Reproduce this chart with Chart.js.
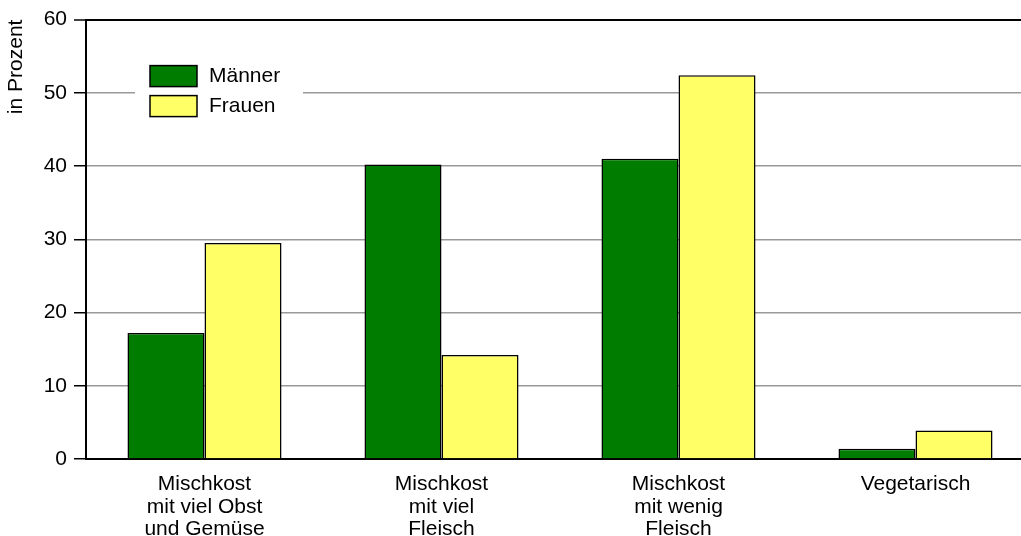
<!DOCTYPE html>
<html>
<head>
<meta charset="utf-8">
<script src="https://cdn.jsdelivr.net/npm/chart.js@4/dist/chart.umd.min.js"></script>
<style>
  html, body { margin: 0; padding: 0; overflow: hidden; background: #fff; }
  #wrap { width: 1040px; height: 536px; }
</style>
</head>
<body>
<div id="wrap"><canvas id="chart"></canvas></div>
<script>
// === Data ===
const categories = [
  ['Mischkost', 'mit viel Obst', 'und Gemüse'],
  ['Mischkost', 'mit viel', 'Fleisch'],
  ['Mischkost', 'mit wenig', 'Fleisch'],
  'Vegetarisch'
];
const maenner = [17.2, 40.2, 41.0, 1.4];
const frauen = [29.5, 14.2, 52.4, 3.9];
const yTicks = [0, 10, 20, 30, 40, 50, 60];

const FONT = '"Liberation Sans", Arial, sans-serif';

// === Legend drawn inside the plot, over the grid ===
const boxLegend = {
  id: 'boxLegend',
  afterDatasetsDraw(chart) {
    const { ctx, chartArea } = chart;
    const x0 = chartArea.left + 64, y0 = chartArea.top + 46;
    ctx.save();
    ctx.fillStyle = '#fff';
    ctx.fillRect(x0 - 15, y0 - 12, 168, 72);
    chart.data.datasets.forEach((ds, i) => {
      const y = y0 + i * 30;
      ctx.fillStyle = ds.backgroundColor;
      ctx.fillRect(x0, y, 47, 21);
      ctx.lineWidth = 1.5;
      ctx.strokeStyle = '#000';
      ctx.strokeRect(x0, y, 47, 21);
      ctx.fillStyle = '#000';
      ctx.font = '21px ' + FONT;
      ctx.textBaseline = 'middle';
      ctx.fillText(ds.label, x0 + 59, y + 11);
    });
    ctx.restore();
  }
};

new Chart(document.getElementById('chart').getContext('2d'), {
  type: 'bar',
  data: {
    labels: categories,
    datasets: [
      { label: 'Männer', data: maenner, backgroundColor: '#007c00', borderColor: '#000', borderWidth: 1.5 },
      { label: 'Frauen', data: frauen, backgroundColor: '#ffff66', borderColor: '#000', borderWidth: 1.5 }
    ]
  },
  options: {
    responsive: true,
    maintainAspectRatio: false,
    animation: false,
    layout: { padding: { top: 19, right: 6, left: 0, bottom: 0 } },
    datasets: { bar: { categoryPercentage: 0.65, barPercentage: 1 } },
    plugins: { legend: { display: false }, tooltip: { enabled: false } },
    scales: {
      x: {
        grid: { display: false },
        border: { color: '#000', width: 2 },
        ticks: { color: '#000', padding: 6, maxRotation: 0, autoSkip: false,
                 font: { family: FONT, size: 21, lineHeight: 1.08 } },
        afterFit: s => { s.height = 77; }
      },
      y: {
        min: 0, max: 60,
        afterBuildTicks: s => { s.ticks = yTicks.map(v => ({ value: v })); },
        grid: {
          color: c => c.tick && c.tick.value === 60 ? '#000' : (c.tick && c.tick.value === 0 ? 'rgba(0,0,0,0)' : '#999'),
          lineWidth: c => c.tick && c.tick.value === 60 ? 2 : 1.5,
          tickColor: '#000', tickLength: 12, tickWidth: 1.5
        },
        border: { color: '#000', width: 2 },
        ticks: { color: '#000', padding: 7, font: { family: FONT, size: 21 } },
        title: { display: true, text: 'in Prozent', align: 'end', color: '#000',
                 padding: { top: 4, bottom: 0 }, font: { family: FONT, size: 21, lineHeight: 1.2 } },
        afterFit: s => { s.width = 86; }
      }
    }
  },
  plugins: [boxLegend]
});
</script>
</body>
</html>
